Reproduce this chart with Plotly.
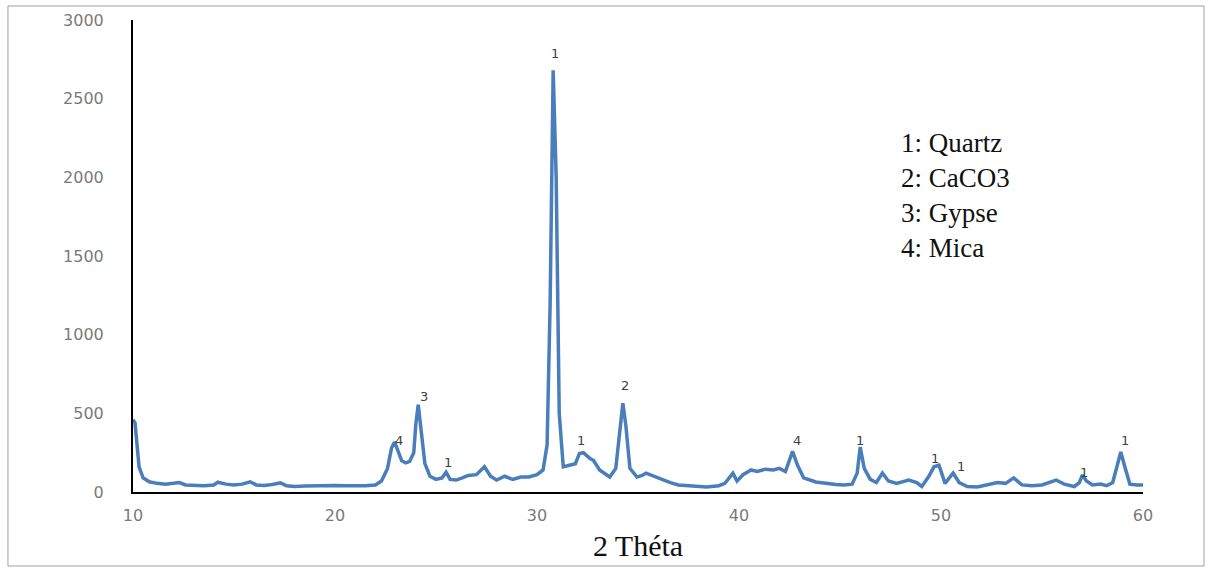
import plotly.graph_objects as go

# 2-theta positions (degrees) and intensities
theta = [10.0, 10.1, 10.2, 10.3, 10.5, 10.8, 11.2, 11.6, 12.0, 12.3, 12.6, 13.0, 13.5, 14.0, 14.2,
         14.6, 15.0, 15.4, 15.8, 16.1, 16.5, 16.9, 17.3, 17.6, 18.0, 18.5, 19.0, 19.5, 20.0, 20.5,
         21.0, 21.5, 22.0, 22.3, 22.6, 22.8, 22.95, 23.1, 23.3, 23.5, 23.7, 23.9, 24.0, 24.12,
         24.25, 24.45, 24.7, 25.0, 25.3, 25.5, 25.7, 26.0, 26.3, 26.6, 27.0, 27.4, 27.7, 28.0,
         28.4, 28.8, 29.2, 29.6, 30.0, 30.3, 30.5, 30.65, 30.8, 30.95, 31.1, 31.3, 31.6, 31.9,
         32.1, 32.3, 32.6, 32.8, 33.1, 33.3, 33.6, 33.9, 34.1, 34.25, 34.4, 34.6, 34.95, 35.2,
         35.4, 35.8, 36.2, 36.6, 37.0, 37.5, 38.0, 38.4, 39.0, 39.3, 39.7, 39.9, 40.2, 40.6,
         40.9, 41.3, 41.7, 42.0, 42.3, 42.65, 42.9, 43.2, 43.8, 44.3, 44.8, 45.2, 45.6, 45.85,
         46.0, 46.2, 46.5, 46.8, 47.1, 47.4, 47.8, 48.4, 48.8, 49.05, 49.4, 49.65, 49.9, 50.2,
         50.6, 50.9, 51.3, 51.8, 52.3, 52.8, 53.2, 53.6, 54.0, 54.5, 55.0, 55.4, 55.7, 56.1,
         56.6, 56.85, 57.0, 57.2, 57.5, 57.9, 58.2, 58.5, 58.75, 58.9, 59.1, 59.35, 59.7, 60.0]
intensity = [460, 440, 300, 160, 90, 65, 55, 50, 55, 60, 45, 42, 40, 45, 62,
             50, 45, 50, 65, 45, 42, 48, 58, 40, 35, 38, 40, 45, 42, 40,
             38, 40, 45, 70, 150, 280, 318, 260, 200, 185, 195, 250, 430, 555,
             420, 180, 100, 80, 90, 125, 80, 76, 90, 105, 110, 160, 100, 76,
             100, 80, 95, 95, 110, 140, 300, 1200, 2680, 2000, 500, 160, 170, 180,
             245, 250, 215, 200, 140, 120, 95, 150, 420, 565, 420, 150, 95, 105,
             120, 100, 76, 60, 45, 40, 35, 32, 40, 55, 120, 70, 110, 140,
             130, 145, 140, 150, 130, 258, 170, 90, 64, 55, 48, 45, 50, 120,
             286, 150, 80, 60, 120, 70, 55, 76, 60, 35, 100, 160, 170, 55,
             120, 60, 35, 32, 45, 60, 55, 90, 45, 40, 45, 60, 76, 50,
             35, 60, 108, 70, 45, 50, 40, 60, 180, 254, 160, 50, 45, 45]

# peak labels (phase index) and where they sit
peak_text = ["4", "3", "1", "1", "1", "2", "4", "1", "1", "1", "1", "1"]
peak_theta = [23.15, 24.4, 25.6, 30.9, 32.2, 34.35, 42.85, 46.0, 49.7, 51.0, 57.1, 59.1]
peak_level = [325, 605, 190, 2790, 325, 675, 330, 325, 210, 165, 127, 325]

legend_lines = ["1: Quartz", "2: CaCO3", "3: Gypse", "4: Mica"]

fig = go.Figure()
fig.add_trace(go.Scatter(x=theta, y=intensity, mode="lines",
                         line=dict(color="#4a7ebb", width=3.5), showlegend=False))

for t, x, y in zip(peak_text, peak_theta, peak_level):
    fig.add_annotation(x=x, y=y, text=t, showarrow=False,
                       font=dict(family="DejaVu Sans", size=13, color="#404040"))

fig.add_annotation(xref="paper", yref="paper", x=0.758, y=0.775, xanchor="left", yanchor="top",
                   text="<br>".join(legend_lines), align="left", showarrow=False,
                   font=dict(family="Liberation Serif", size=27, color="#111111"))

# outer frame
fig.add_shape(type="rect", xref="paper", yref="paper", x0=-0.1238, x1=1.0604, y0=-0.1568, y1=1.0297,
              line=dict(color="#a0a0a0", width=1))

tickfont = dict(family="DejaVu Sans", size=16, color="#7a7a7a")
fig.update_layout(
    width=1212, height=571,
    margin=dict(l=133, r=69, t=20, b=79),
    paper_bgcolor="white", plot_bgcolor="white",
    xaxis=dict(range=[10, 60], tickvals=[10, 20, 30, 40, 50, 60], showgrid=False, zeroline=False,
               showline=True, linecolor="black", linewidth=2, ticks="", tickfont=tickfont,
               ticklabelstandoff=8,
               title=dict(text="2 Théta", font=dict(family="Liberation Serif", size=30, color="#111111"),
                          standoff=11)),
    yaxis=dict(range=[0, 3000], tickvals=[0, 500, 1000, 1500, 2000, 2500, 3000], showgrid=False,
               zeroline=False, showline=True, linecolor="black", linewidth=2, ticks="",
               tickfont=tickfont, ticklabelstandoff=24),
)

fig.write_html("out.html")
